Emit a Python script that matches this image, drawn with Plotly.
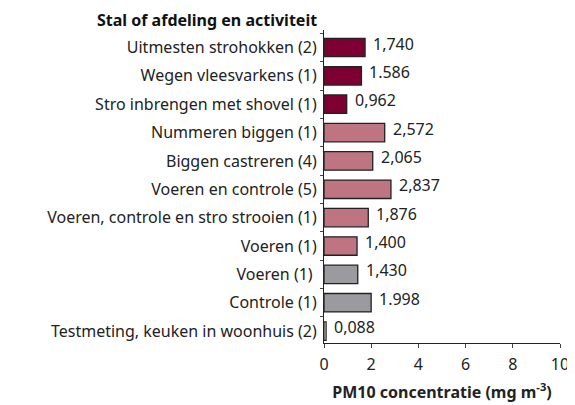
import plotly.graph_objects as go

categories = [
    "Uitmesten strohokken (2)",
    "Wegen vleesvarkens (1)",
    "Stro inbrengen met shovel (1)",
    "Nummeren biggen (1)",
    "Biggen castreren (4)",
    "Voeren en controle (5)",
    "Voeren, controle en stro strooien (1)",
    "Voeren (1)",
    "Voeren (1) ",
    "Controle (1)",
    "Testmeting, keuken in woonhuis (2)",
]
values = [1.740, 1.586, 0.962, 2.572, 2.065, 2.837, 1.876, 1.400, 1.430, 1.998, 0.088]
value_labels = ["1,740", "1.586", "0,962", "2,572", "2,065", "2,837", "1,876", "1,400", "1,430", "1.998", "0,088"]
groups = ["a", "a", "a", "b", "b", "b", "b", "b", "c", "c", "d"]
x_ticks = [0, 2, 4, 6, 8, 10]

group_colors = {"a": "#7e0032", "b": "#bf7482", "c": "#9b9b9f", "d": "#ffffff"}
FONT = "Noto Sans"

fig = go.Figure()
fig.add_trace(go.Bar(
    x=values, y=categories, orientation="h",
    marker=dict(color=[group_colors[g] for g in groups],
                line=dict(color="#222222", width=1.3)),
    width=0.65,
    hoverinfo="skip",
))

for v, c, t in zip(values, categories, value_labels):
    fig.add_annotation(x=v, y=c, text=t, showarrow=False, xanchor="left",
                       xshift=6, yshift=4, font=dict(family=FONT, size=16, color="#222222"))

fig.add_annotation(xref="paper", yref="paper", x=0, y=1, xshift=-5, xanchor="right",
                   yanchor="bottom", yshift=-3, text="<b>Stal of afdeling en activiteit</b>",
                   showarrow=False, font=dict(family=FONT, size=16, color="#111111"))

fig.update_layout(
    width=567, height=397,
    margin=dict(l=316, r=15, t=22, b=62, autoexpand=False),
    paper_bgcolor="white", plot_bgcolor="white",
    showlegend=False,
    font=dict(family=FONT, size=16, color="#222222"),
    xaxis=dict(range=[0, 10], tickvals=x_ticks, ticks="outside", ticklen=4,
               showline=True, linecolor="#222222", linewidth=1, showgrid=False,
               zeroline=False, tickfont=dict(size=16), automargin=False,
               ticklabelstandoff=3,
               title=dict(text="<b>PM10 concentratie (mg m<sup>-3</sup>)</b>",
                          font=dict(size=16), standoff=12)),
    yaxis=dict(range=[10.42, -0.617], type="category", ticks="outside", ticklen=3,
               tickson="boundaries", showline=True, linecolor="#222222", linewidth=1,
               showgrid=False, tickfont=dict(size=16), ticklabelstandoff=3,
               automargin=False),
)

fig.write_html("out.html")
